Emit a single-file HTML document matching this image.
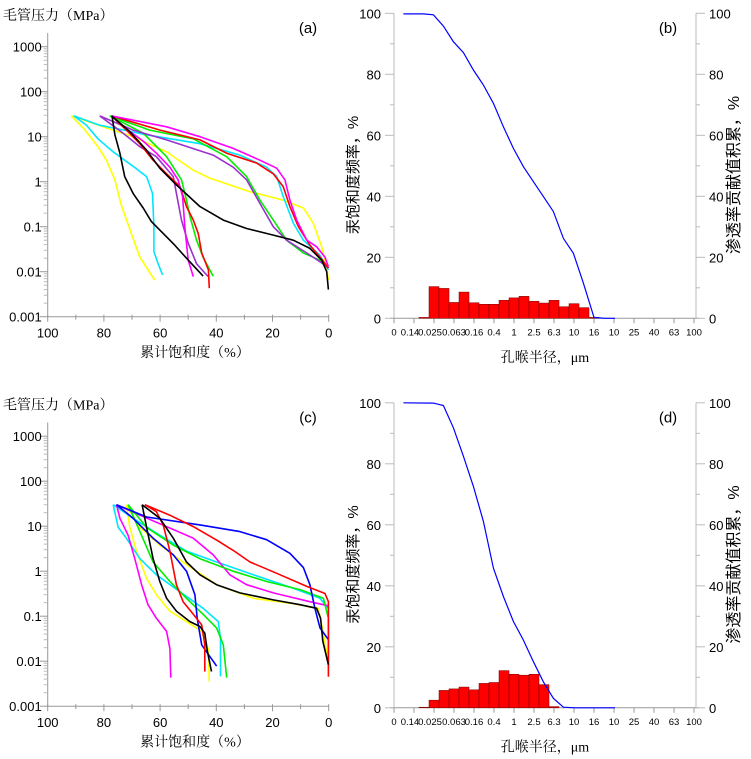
<!DOCTYPE html>
<html><head><meta charset="utf-8">
<style>
html,body{margin:0;padding:0;background:#fff;}
svg{display:block;}
text{font-family:"Liberation Sans","Noto Sans CJK SC",sans-serif;}
.cjk{font-family:"Liberation Serif","Noto Serif CJK SC",serif;}
.cjks{font-family:"Liberation Sans","Noto Sans CJK SC",sans-serif;}
</style></head>
<body>
<svg id="chart" width="751" height="759" viewBox="0 0 751 759" xmlns="http://www.w3.org/2000/svg"></svg>
<script>
// ===== Panel (a) capillary pressure curves: [saturation %, pressure MPa]
const aYellow1 = [[91.6,29],[87.2,15.3],[82.1,6],[79.1,3],[76.1,1.1],[73.8,0.3],[70.2,0.07],[67.2,0.021],[64.3,0.011],[61.9,0.0065]];
const aCyan1 = [[90.7,29],[86.2,18],[82.1,9],[76.7,4.6],[69.6,2.2],[64.8,1.3],[62.7,0.55],[62.2,0.1],[62.2,0.028],[60.7,0.015],[59.1,0.0085]];
const aBlack1 = [[77.1,29],[76.1,11],[74.3,4.3],[72.6,1.3],[69.6,0.55],[66,0.26],[63.1,0.13],[58.9,0.071],[54.8,0.039],[50.6,0.02],[44.7,0.008]];
const aBlack2 = [[77.3,29],[70.8,13],[64.8,5],[60.1,2],[54.2,0.85],[45.8,0.28],[37.5,0.14],[29.2,0.091],[19.7,0.065],[12.6,0.05],[6.7,0.033],[2.5,0.018],[0.7,0.01],[0.1,0.004]];
const aRed1 = [[77.3,29],[72,14],[67.2,7],[62.5,3],[57.7,1.5],[52.9,0.78],[50.6,0.28],[48.2,0.14],[46.4,0.07],[45.2,0.026],[42.8,0.011],[42.5,0.0043]];
const aMagenta1 = [[77.3,29],[71.4,14],[66,8],[61.3,4.3],[56.5,2.1],[53.6,1.1],[52,0.47],[51.2,0.1],[50,0.018],[48.2,0.0078]];
const aPurple1 = [[81.5,29],[73.2,12],[67.2,6],[61.3,3.6],[55.3,1.3],[54.2,0.55],[52.4,0.14],[50,0.043],[47,0.015],[42.9,0.0078]];
const aGreen1 = [[77.9,29],[66,12],[57.7,3.6],[52.4,1.1],[50.6,0.39],[49.4,0.17],[47,0.05],[44.7,0.021],[41.1,0.0079]];
const aMagenta2 = [[77.3,29],[57.7,16.6],[45.8,10],[34,5.5],[24.5,3],[18.5,2],[15.6,1.1],[13.8,0.39],[11.4,0.14],[7.8,0.05],[4.3,0.036],[1.3,0.021],[0.1,0.013]];
const aRed2 = [[77.3,29],[60,14],[45.8,8.5],[36.3,4.3],[25.7,2.6],[19.7,1.5],[16.2,0.78],[13.8,0.28],[10.8,0.1],[6.7,0.039],[1.9,0.017],[0.1,0.012]];
const aCyan2 = [[90.7,29],[81.5,18],[64.8,11],[45.8,7],[31.6,3.9],[22.1,2.1],[18.5,1.3],[16.2,0.47],[12.6,0.12],[9,0.05],[3.1,0.023],[0.1,0.011]];
const aGreen2 = [[77.9,29],[63.7,14],[48.2,9],[36.3,3.6],[29.2,1.3],[24.5,0.39],[19.7,0.14],[15,0.05],[9,0.026],[3.1,0.018],[0.1,0.012]];
const aPurple2 = [[81.5,29],[69.6,14],[57.7,8.5],[41.1,3.9],[34,2.1],[29.2,1.1],[24.5,0.33],[19.7,0.1],[15,0.05],[7.8,0.026],[1.3,0.014],[0.1,0.012]];
const aYellow2 = [[91.6,29],[80.3,16.6],[69.6,10],[57.7,4.6],[48.2,1.8],[42.3,1.2],[28,0.6],[16.2,0.39],[9,0.26],[5.5,0.12],[2.5,0.036],[0.7,0.013],[0.1,0.0065]];

// ===== Panel (c)
const cBlue1 = [[75.5,30],[64.8,16],[45.8,10.7],[31.6,7.6],[22.1,5],[13.8,2.5],[9,1.2],[6.7,0.5],[4.9,0.15],[3.1,0.055],[0.1,0.03]];
const cBlue2 = [[75.5,30],[69.6,15],[62.5,5.4],[55.3,2.3],[50.6,1],[47.6,0.3],[46.8,0.09],[45.2,0.023],[39.9,0.0078]];
const cRed1 = [[65.4,30],[56.5,17.6],[48.2,9.8],[39.9,4.9],[34,2.9],[28,1.6],[18.5,0.9],[7.8,0.46],[1.3,0.32],[0.1,0.21],[0.1,0.0045]];
const cRed2 = [[65.4,30],[61.3,21],[58.9,10.7],[56.5,2.8],[54.2,0.5],[51.8,0.21],[48.2,0.11],[45.2,0.064],[44.1,0.023],[44.1,0.0059]];
const cBlack1 = [[66.4,30],[60.1,15],[55.3,5.4],[50.6,1.6],[45.8,0.83],[39.9,0.5],[31.6,0.33],[19.7,0.23],[10.2,0.18],[4.3,0.15],[2.9,0.09],[2.1,0.028],[0.1,0.0083]];
const cBlack2 = [[66.4,30],[64.8,9.4],[62.5,1.9],[60.1,0.59],[57.7,0.25],[54.2,0.13],[49.4,0.076],[45.8,0.059],[44.1,0.042],[43.2,0.017],[41.7,0.0059]];
const cMagenta1 = [[75.5,30],[67.2,17.6],[57.7,9.8],[48.2,5.4],[41.1,2.3],[35.2,0.83],[29.2,0.5],[19.7,0.33],[6.7,0.21],[0.1,0.17]];
const cMagenta2 = [[75.5,30],[74.3,15],[71.4,6.3],[69,1.9],[66.6,0.5],[64.3,0.18],[61.3,0.09],[57.7,0.046],[56.5,0.019],[56.2,0.0043]];
const cCyan1 = [[76.7,30],[69.6,15],[60.1,6.3],[50.6,2.8],[39.9,1.6],[26.8,0.83],[12.6,0.42],[3.1,0.25],[0.1,0.15]];
const cCyan2 = [[76.7,30],[74.9,9.4],[72,5.4],[67.2,1.9],[61.3,0.83],[53,0.35],[44.7,0.15],[39.3,0.076],[38.5,0.032],[38.5,0.0046]];
const cGreen1 = [[71.4,30],[64.8,9.4],[55.3,3.8],[45.8,1.9],[34,1],[22.1,0.59],[10.2,0.39],[1.9,0.25],[0.1,0.09],[0.1,0.0071]];
const cGreen2 = [[71.4,30],[67.2,7.6],[62.5,1.6],[56.5,0.59],[50.6,0.25],[44.7,0.11],[39.9,0.055],[37.5,0.023],[36.3,0.0043]];
const cYellow1 = [[72,30],[67.2,9.4],[60.1,3.8],[50.6,1.4],[39.9,0.5],[26.8,0.25],[12.6,0.19],[3.7,0.15],[2.5,0.064],[0.1,0.01]];
const cYellow2 = [[72,30],[70.8,9.4],[68.4,2.8],[64.8,0.69],[61.3,0.3],[56.5,0.13],[50.6,0.076],[45.2,0.046],[42.9,0.019],[42.5,0.0035]];

// ===== Panels (b),(d): histogram (percent) and cumulative line
const sizeLabels = ["0","0.14","0.025","0.063","0.16","0.4","1","2.5","6.3","10","16","10","25","40","63","100"];
const bBars = [0.3,10.4,9.8,5.2,8.6,5.1,4.6,4.6,5.9,6.7,7.2,5.6,5.0,5.9,3.8,4.8,3.5,0.3];
const bCumX = [0.47,1.47,1.97,2.47,2.97,3.47,3.97,4.47,4.97,5.47,5.97,6.47,6.97,7.47,7.97,8.47,8.97,9.47,10,10.55,11.05];
const bCumY = [99.8,99.8,99.5,95.8,90.7,87.1,81.4,76.5,70.5,62.8,55.7,49.7,44.8,39.9,35,26.2,21.3,11.5,0.3,0,0];
const dBars = [0.2,2.5,5.7,6.2,6.8,5.9,8.0,8.3,12.2,11.0,10.7,11.0,7.6,0.4];
const dCumX = [0.47,1.97,2.47,2.97,3.47,3.97,4.47,4.97,5.47,5.97,6.47,6.97,7.47,7.97,8.47,9.05,11.05];
const dCumY = [100,99.9,99.1,91.8,82.5,72.6,61.1,45.8,36.5,28.3,22.2,15.1,8.5,3.1,0.2,0,0];
const pctTicks = [0,20,40,60,80,100];
const satTicks = [100,80,60,40,20,0];
const pTicks = [1000,100,10,1,0.1,0.01,0.001];
const pLabels = ["1000","100","10","1","0.1","0.01","0.001"];

const svg = document.getElementById('chart');
const NS = 'http://www.w3.org/2000/svg';
function mk(tag, attrs, parent){
  const e = document.createElementNS(NS, tag);
  for (const k in attrs) e.setAttribute(k, attrs[k]);
  (parent||svg).appendChild(e);
  return e;
}
function txt(s, x, y, size, anchor, parent, cls){
  const t = mk('text', {x:x, y:y, 'font-size':size, 'text-anchor':anchor||'start', fill:'#000'}, parent);
  if (cls) t.setAttribute('class', cls);
  t.textContent = s;
  return t;
}

function capPanel(oy, letter, series){
  const g = mk('g', {});
  
  
  const x0 = 47.7, x1 = 328.7;
  const yTop = 46.7 + oy, yBot = 316.7 + oy;
  const xs = s => x1 - (s/100)*(x1-x0);
  const ys = p => yTop + (3 - Math.log10(p)) * (yBot-yTop)/6;
  const t1 = txt('毛管压力（MPa）', 3, 20 + oy, 14, 'start', g, 'cjk');
  
  
  const tl = txt('(' + letter + ')', 308, 33 + oy, 15, 'middle', g);
  
  
  mk('line', {x1:x0, y1:33+oy, x2:x0, y2:yBot, stroke:'#999', 'stroke-width':1}, g);
  mk('line', {x1:x0, y1:yBot, x2:x1, y2:yBot, stroke:'#999', 'stroke-width':1}, g);
  for (let i=0;i<pTicks.length;i++){
    const y = ys(pTicks[i]);
    mk('line', {x1:x0-8, y1:y, x2:x0, y2:y, stroke:'#999'}, g);
    const tt = txt(pLabels[i], x0-6, y+5, 13, 'end', g);
    
    
    if (i < pTicks.length-1){
      for (let m=2;m<=9;m++){
        const ym = ys(pTicks[i+1]*m);
        mk('line', {x1:x0-4, y1:ym, x2:x0, y2:ym, stroke:'#bbb'}, g);
      }
    }
  }
  for (let v=0; v<=100; v+=10){
    const x = xs(v);
    mk('line', {x1:x, y1:yBot-2, x2:x, y2:yBot+(v%20===0?5:3), stroke:'#999'}, g);
  }
  for (const v of satTicks){
    const tt = txt(String(v), xs(v), yBot+21, 13, 'middle', g);
    
    
  }
  const xt = txt('累计饱和度（%）', 195, 357+oy, 14, 'middle', g, 'cjk');
  
  
  for (const s of series){
    const d = s.data.map((p,i)=>(i?'L':'M')+xs(p[0]).toFixed(1)+','+ys(p[1]).toFixed(1)).join(' ');
    const path = mk('path', {d:d, fill:'none', stroke:s.color, 'stroke-width':1.6, 'stroke-linejoin':'round'}, g);
    
    
  }
}

function distPanel(oy, letter, bars, cumX, cumY){
  const g = mk('g', {});
  
  
  const xa = 394, dx = 20, xr = 696;
  const y0 = 318.3 + oy, y100 = 13.3 + oy;
  const xs = i => xa + i*dx;
  const ys = v => y0 - v/100*(y0-y100);
  mk('line', {x1:xa, y1:y100, x2:xa, y2:y0, stroke:'#bbb'}, g);
  mk('line', {x1:xr, y1:y100, x2:xr, y2:y0, stroke:'#bbb'}, g);
  mk('line', {x1:xa-4, y1:y0, x2:xr+3, y2:y0, stroke:'#999'}, g);
  for (let v=0; v<=100; v+=10){
    const y = ys(v), maj = v%20===0;
    mk('line', {x1:xa-(maj?9:4), y1:y, x2:xa, y2:y, stroke:'#bbb'}, g);
    mk('line', {x1:xr, y1:y, x2:xr+(maj?9:4), y2:y, stroke:'#bbb'}, g);
  }
  for (const v of pctTicks){
    const a = txt(String(v), 381, ys(v)+5, 13, 'end', g);
    
    
    const b = txt(String(v), 709, ys(v)+5, 13, 'start', g);
    
    
  }
  for (let i=0;i<sizeLabels.length;i++){
    mk('line', {x1:xs(i), y1:y0, x2:xs(i), y2:y0+5, stroke:'#999'}, g);
    const t = txt(sizeLabels[i], xs(i)+(i===1?-4:(i===2?-4:0)), y0+17, 9.5, 'middle', g);
    
    
  }
  for (let k=0;k<bars.length;k++){
    const c = 1.5 + 0.5*k;
    const r = mk('rect', {x:xs(c-0.25), y:ys(bars[k]), width:dx*0.5, height:y0-ys(bars[k]), fill:'#ff0000', stroke:'#7a0000', 'stroke-width':0.5}, g);
    
    
  }
  const d = cumX.map((x,i)=>(i?'L':'M')+xs(x).toFixed(1)+','+ys(cumY[i]).toFixed(1)).join(' ');
  const line = mk('path', {d:d, fill:'none', stroke:'#0000ff', 'stroke-width':1.2}, g);
  
  
  const tl = txt('(' + letter + ')', 668, 33 + oy, 15, 'middle', g);
  
  
  const xt = txt('孔喉半径，μm', 545, 362 + oy, 14, 'middle', g, 'cjk');
  
  
  const lt = txt('汞饱和度频率，%', 0, 0, 15, 'middle', g, 'cjks');
  lt.setAttribute('transform', 'translate(358,' + (175+oy) + ') rotate(-90)');
  
  
  const rt = txt('渗透率贡献值积累，%', 0, 0, 16, 'middle', g, 'cjks');
  rt.setAttribute('transform', 'translate(739,' + (175+oy) + ') rotate(-90)');
  
  
}

capPanel(0, 'a', [
  {name:'yellow-1', color:'#ffff00', data:aYellow1},
  {name:'yellow-2', color:'#ffff00', data:aYellow2},
  {name:'cyan-1', color:'#00e5ff', data:aCyan1},
  {name:'cyan-2', color:'#00e5ff', data:aCyan2},
  {name:'green-1', color:'#00ee00', data:aGreen1},
  {name:'green-2', color:'#00ee00', data:aGreen2},
  {name:'purple-1', color:'#9932cc', data:aPurple1},
  {name:'purple-2', color:'#9932cc', data:aPurple2},
  {name:'red-1', color:'#ff0000', data:aRed1},
  {name:'red-2', color:'#ff0000', data:aRed2},
  {name:'magenta-1', color:'#ff00ff', data:aMagenta1},
  {name:'magenta-2', color:'#ff00ff', data:aMagenta2},
  {name:'black-1', color:'#000000', data:aBlack1},
  {name:'black-2', color:'#000000', data:aBlack2}
]);
capPanel(389.5, 'c', [
  {name:'yellow-1', color:'#ffff00', data:cYellow1},
  {name:'yellow-2', color:'#ffff00', data:cYellow2},
  {name:'cyan-1', color:'#00e5ff', data:cCyan1},
  {name:'cyan-2', color:'#00e5ff', data:cCyan2},
  {name:'magenta-1', color:'#ff00ff', data:cMagenta1},
  {name:'magenta-2', color:'#ff00ff', data:cMagenta2},
  {name:'green-1', color:'#00ee00', data:cGreen1},
  {name:'green-2', color:'#00ee00', data:cGreen2},
  {name:'blue-1', color:'#0000ff', data:cBlue1},
  {name:'blue-2', color:'#0000ff', data:cBlue2},
  {name:'red-1', color:'#ff0000', data:cRed1},
  {name:'red-2', color:'#ff0000', data:cRed2},
  {name:'black-1', color:'#000000', data:cBlack1},
  {name:'black-2', color:'#000000', data:cBlack2}
]);
distPanel(0, 'b', bBars, bCumX, bCumY);
distPanel(389.5, 'd', dBars, dCumX, dCumY);
</script>
</body></html>
